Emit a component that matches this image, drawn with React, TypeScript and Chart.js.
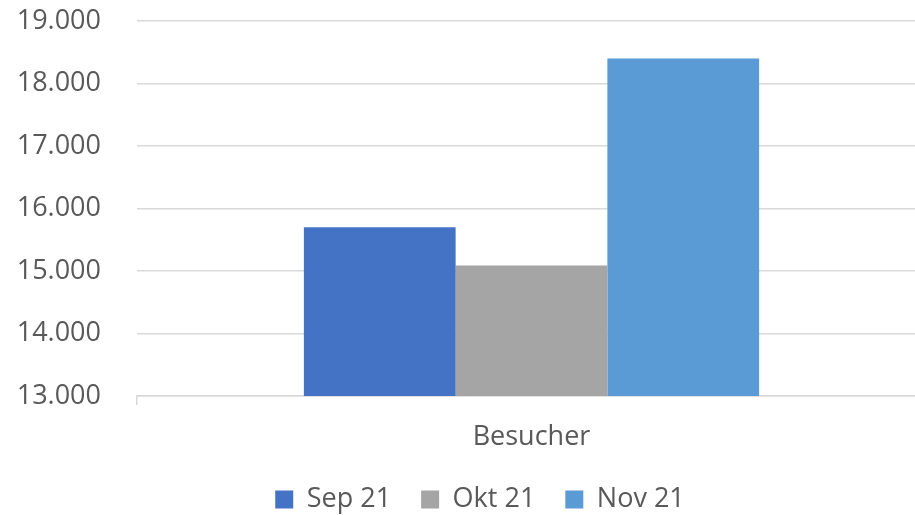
import React, { useEffect, useRef } from "react";
import { Chart, registerables } from "chart.js";

Chart.register(...registerables);

const categories = ["Besucher"];
const seriesNames = ["Sep 21", "Okt 21", "Nov 21"];
const sep21 = [15700];
const okt21 = [15090];
const nov21 = [18400];
const colors = ["#4472C4", "#A5A5A5", "#5B9BD5"];
const yMin = 13000;
const yMax = 19000;
const yStep = 1000;

function fmt(v: number): string {
  const s = Math.round(v).toString();
  return s.replace(/\B(?=(\d{3})+(?!\d))/g, ".");
}

const legendShift = {
  id: "legendShift",
  afterLayout(chart: any) {
    if (chart.legend) {
      chart.legend.left += 11;
      chart.legend.right += 11;
    }
  },
};

export default function App() {
  const ref = useRef<HTMLCanvasElement | null>(null);
  useEffect(() => {
    document.body.style.margin = "0";
    const FONT = "'Open Sans', 'Liberation Sans', sans-serif";
    const values = [sep21, okt21, nov21];
    const chart = new Chart(ref.current as HTMLCanvasElement, {
      type: "bar",
      data: {
        labels: categories,
        datasets: seriesNames.map((n, i) => ({
          label: n,
          data: values[i],
          backgroundColor: colors[i],
          borderWidth: 0,
          categoryPercentage: 0.577,
          barPercentage: 1,
        })),
      },
      plugins: [legendShift],
      options: {
        animation: false,
        responsive: true,
        maintainAspectRatio: false,
        layout: { padding: { left: 12, right: 0, top: 0, bottom: -8 } },
        plugins: {
          tooltip: { enabled: false },
          legend: {
            position: "bottom",
            labels: {
              color: "#595959",
              font: { family: FONT, size: 27 },
              boxWidth: 18,
              boxHeight: 18,
              padding: 30,
            },
          },
        },
        scales: {
          x: {
            grid: {
              drawOnChartArea: false,
              drawTicks: true,
              tickLength: 9,
              color: "#D9D9D9",
              lineWidth: 1.5,
            },
            border: { display: true, color: "#D9D9D9", width: 1.5 },
            ticks: {
              color: "#595959",
              font: { family: FONT, size: 27 },
              padding: 16,
            },
            afterFit: (s: any) => {
              s.height = 60;
              s.paddingLeft = 0;
              s.paddingRight = 0;
            },
          },
          y: {
            min: yMin,
            max: yMax,
            grid: { color: "#D9D9D9", lineWidth: 1.5, drawTicks: false },
            border: { display: false },
            ticks: {
              stepSize: yStep,
              color: "#595959",
              font: { family: FONT, size: 27 },
              padding: 36,
              callback: (v: any) => fmt(Number(v)),
            },
            afterFit: (s: any) => {
              s.width = 125;
              s.paddingTop = 21;
              s.paddingBottom = 16;
            },
          },
        },
      },
    });
    return () => chart.destroy();
  }, []);
  return (
    <div style={{ position: "absolute", left: 0, top: 0, width: 915, height: 515, overflow: "hidden" }}>
      <div style={{ position: "relative", width: 926, height: 515 }}>
        <canvas ref={ref} />
      </div>
    </div>
  );
}
